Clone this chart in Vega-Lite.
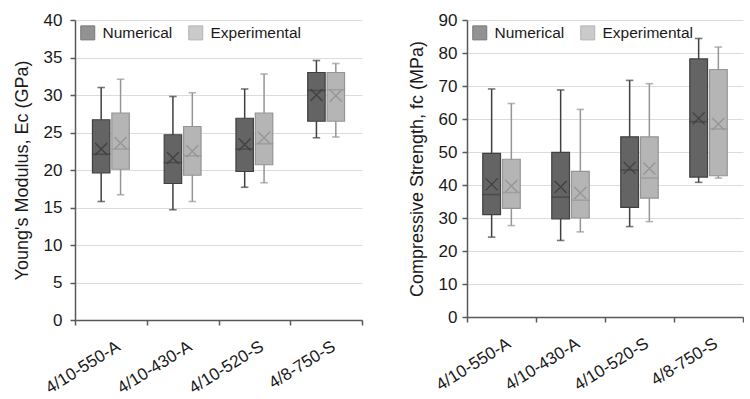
{
  "$schema": "https://vega.github.io/schema/vega-lite/v6.json",
  "padding": {"left": 13, "top": 11, "right": 0, "bottom": 0},
  "background": "white",
  "config": {
    "view": {"stroke": null},
    "font": "Liberation Sans",
    "axis": {
      "labelFont": "Liberation Sans",
      "titleFont": "Liberation Sans",
      "labelColor": "#1a1a1a",
      "titleColor": "#1a1a1a",
      "domainColor": "#595959",
      "tickColor": "#595959",
      "domainWidth": 1.5,
      "tickWidth": 1.5,
      "labelFontSize": 17,
      "titleFontSize": 18,
      "titleFontWeight": "normal"
    },
    "axisY": {"labelOverlap": false, "grid": true, "gridColor": "#dcdcdc", "gridWidth": 1, "tickSize": 5, "titlePadding": 12},
    "legend": {
      "labelFont": "Liberation Sans",
      "labelFontSize": 15.5,
      "labelColor": "#1a1a1a"
    }
  },
  "datasets": {
    "young": [
      {"g": "4/10-550-A", "type": "Numerical", "lo": 15.8, "q1": 19.6, "med": 22.1, "mean": 22.8, "q3": 26.7, "hi": 31.0},
      {"g": "4/10-550-A", "type": "Experimental", "lo": 16.7, "q1": 20.1, "med": 22.8, "mean": 23.6, "q3": 27.6, "hi": 32.1},
      {"g": "4/10-430-A", "type": "Numerical", "lo": 14.7, "q1": 18.2, "med": 21.0, "mean": 21.6, "q3": 24.7, "hi": 29.8},
      {"g": "4/10-430-A", "type": "Experimental", "lo": 15.8, "q1": 19.3, "med": 21.9, "mean": 22.5, "q3": 25.8, "hi": 30.3},
      {"g": "4/10-520-S", "type": "Numerical", "lo": 17.7, "q1": 19.8, "med": 22.8, "mean": 23.4, "q3": 26.9, "hi": 30.8},
      {"g": "4/10-520-S", "type": "Experimental", "lo": 18.3, "q1": 20.7, "med": 23.5, "mean": 24.3, "q3": 27.6, "hi": 32.8},
      {"g": "4/8-750-S", "type": "Numerical", "lo": 24.3, "q1": 26.5, "med": 30.6, "mean": 30.0, "q3": 33.0, "hi": 34.6},
      {"g": "4/8-750-S", "type": "Experimental", "lo": 24.4, "q1": 26.5, "med": 30.7, "mean": 29.9, "q3": 33.0, "hi": 34.2}
    ],
    "comp": [
      {"g": "4/10-550-A", "type": "Numerical", "lo": 24.2, "q1": 31.0, "med": 37.1, "mean": 40.2, "q3": 49.6, "hi": 69.1},
      {"g": "4/10-550-A", "type": "Experimental", "lo": 27.7, "q1": 32.9, "med": 37.7, "mean": 39.7, "q3": 47.8, "hi": 64.7},
      {"g": "4/10-430-A", "type": "Numerical", "lo": 23.2, "q1": 29.7, "med": 36.3, "mean": 39.4, "q3": 49.9, "hi": 68.8},
      {"g": "4/10-430-A", "type": "Experimental", "lo": 25.8, "q1": 30.0, "med": 35.4, "mean": 37.6, "q3": 44.1, "hi": 62.9},
      {"g": "4/10-520-S", "type": "Numerical", "lo": 27.4, "q1": 33.2, "med": 44.5, "mean": 45.2, "q3": 54.6, "hi": 71.7},
      {"g": "4/10-520-S", "type": "Experimental", "lo": 28.9, "q1": 36.0, "med": 42.1, "mean": 45.0, "q3": 54.6, "hi": 70.7},
      {"g": "4/8-750-S", "type": "Numerical", "lo": 40.8, "q1": 42.4, "med": 59.2, "mean": 60.2, "q3": 78.2, "hi": 84.4},
      {"g": "4/8-750-S", "type": "Experimental", "lo": 42.1, "q1": 42.8, "med": 57.0, "mean": 58.5, "q3": 75.0, "hi": 81.8}
    ]
  },
  "spacing": 45,
  "hconcat": [
    {
      "width": 287,
      "height": 300,
      "data": {"name": "young"},
      "encoding": {
        "x": {
          "field": "g", "type": "nominal", "sort": null,
          "scale": {"paddingInner": 0, "paddingOuter": 0},
          "axis": {"title": null, "tickBand": "extent", "labelAngle": -32, "labelAlign": "right", "labelBaseline": "top", "labelPadding": 13, "labelOffset": 3, "tickSize": 5, "grid": false, "labelOverlap": false, "labelBound": false, "labelFlush": false}
        },
        "xOffset": {"field": "type", "type": "nominal", "sort": ["Numerical", "Experimental"], "scale": {"domain": ["Numerical", "Experimental"], "paddingInner": 0.1, "paddingOuter": 0.9}}
      },
      "layer": [
        {
          "mark": {"type": "rule", "strokeWidth": 1.5},
          "encoding": {
            "y": {"field": "lo", "type": "quantitative", "scale": {"domain": [0, 40], "nice": false}, "axis": {"title": "Young's Modulus, Ec (GPa)", "values": [0, 5, 10, 15, 20, 25, 30, 35, 40], "labelPadding": 8}},
            "y2": {"field": "hi"},
            "stroke": {"field": "type", "type": "nominal", "scale": {"domain": ["Numerical", "Experimental"], "range": ["#404040", "#959595"]}}
          }
        },
        {
          "mark": {"type": "tick", "size": 6, "thickness": 0.1, "filled": false, "strokeWidth": 1.5},
          "encoding": {
            "y": {"field": "lo", "type": "quantitative", "axis": {"title": "Young's Modulus, Ec (GPa)", "values": [0, 5, 10, 15, 20, 25, 30, 35, 40], "labelPadding": 8}},
            "stroke": {"field": "type", "type": "nominal"}
          }
        },
        {
          "mark": {"type": "tick", "size": 6, "thickness": 0.1, "filled": false, "strokeWidth": 1.5},
          "encoding": {
            "y": {"field": "hi", "type": "quantitative", "axis": {"title": "Young's Modulus, Ec (GPa)", "values": [0, 5, 10, 15, 20, 25, 30, 35, 40], "labelPadding": 8}},
            "stroke": {"field": "type", "type": "nominal"}
          }
        },
        {
          "mark": {"type": "bar", "strokeWidth": 1.2, "fillOpacity": 1},
          "encoding": {
            "y": {"field": "q1", "type": "quantitative", "axis": {"title": "Young's Modulus, Ec (GPa)", "values": [0, 5, 10, 15, 20, 25, 30, 35, 40], "labelPadding": 8}},
            "y2": {"field": "q3"},
            "fill": {"field": "type", "type": "nominal", "scale": {"domain": ["Numerical", "Experimental"], "range": ["#646464", "#b5b5b5"]}, "legend": {"title": null, "orient": "top-left", "direction": "horizontal", "symbolType": "square", "symbolSize": 196, "symbolStrokeWidth": 1, "labelOffset": 7, "columnPadding": 13, "offset": 5}},
            "stroke": {"field": "type", "type": "nominal", "legend": {"title": null, "orient": "top-left", "direction": "horizontal", "symbolType": "square", "symbolSize": 196, "symbolStrokeWidth": 1, "labelOffset": 7, "columnPadding": 13, "offset": 5}}
          }
        },
        {
          "mark": {"type": "tick", "size": 17, "thickness": 0.1, "filled": false, "strokeWidth": 1.5},
          "encoding": {
            "y": {"field": "med", "type": "quantitative", "axis": {"title": "Young's Modulus, Ec (GPa)", "values": [0, 5, 10, 15, 20, 25, 30, 35, 40], "labelPadding": 8}},
            "stroke": {"field": "type", "type": "nominal"}
          }
        },
        {
          "mark": {"type": "point", "shape": "M-1,-1L1,1M1,-1L-1,1", "size": 144, "filled": false, "strokeWidth": 1.3, "opacity": 1},
          "encoding": {
            "y": {"field": "mean", "type": "quantitative", "axis": {"title": "Young's Modulus, Ec (GPa)", "values": [0, 5, 10, 15, 20, 25, 30, 35, 40], "labelPadding": 8}},
            "stroke": {"field": "type", "type": "nominal"}
          }
        }
      ]
    },
    {
      "width": 276,
      "height": 297,
      "data": {"name": "comp"},
      "encoding": {
        "x": {
          "field": "g", "type": "nominal", "sort": null,
          "scale": {"paddingInner": 0, "paddingOuter": 0},
          "axis": {"title": null, "tickBand": "extent", "labelAngle": -32, "labelAlign": "right", "labelBaseline": "top", "labelPadding": 13, "labelOffset": 3, "tickSize": 5, "grid": false, "labelOverlap": false, "labelBound": false, "labelFlush": false}
        },
        "xOffset": {"field": "type", "type": "nominal", "sort": ["Numerical", "Experimental"], "scale": {"domain": ["Numerical", "Experimental"], "paddingInner": 0.1, "paddingOuter": 0.8}}
      },
      "layer": [
        {
          "mark": {"type": "rule", "strokeWidth": 1.5},
          "encoding": {
            "y": {"field": "lo", "type": "quantitative", "scale": {"domain": [0, 90], "nice": false}, "axis": {"title": "Compressive Strength, fc (MPa)", "values": [0, 10, 20, 30, 40, 50, 60, 70, 80, 90], "labelPadding": 5}},
            "y2": {"field": "hi"},
            "stroke": {"field": "type", "type": "nominal", "scale": {"domain": ["Numerical", "Experimental"], "range": ["#404040", "#959595"]}}
          }
        },
        {
          "mark": {"type": "tick", "size": 6, "thickness": 0.1, "filled": false, "strokeWidth": 1.5},
          "encoding": {
            "y": {"field": "lo", "type": "quantitative", "axis": {"title": "Compressive Strength, fc (MPa)", "values": [0, 10, 20, 30, 40, 50, 60, 70, 80, 90], "labelPadding": 5}},
            "stroke": {"field": "type", "type": "nominal"}
          }
        },
        {
          "mark": {"type": "tick", "size": 6, "thickness": 0.1, "filled": false, "strokeWidth": 1.5},
          "encoding": {
            "y": {"field": "hi", "type": "quantitative", "axis": {"title": "Compressive Strength, fc (MPa)", "values": [0, 10, 20, 30, 40, 50, 60, 70, 80, 90], "labelPadding": 5}},
            "stroke": {"field": "type", "type": "nominal"}
          }
        },
        {
          "mark": {"type": "bar", "strokeWidth": 1.2, "fillOpacity": 1},
          "encoding": {
            "y": {"field": "q1", "type": "quantitative", "axis": {"title": "Compressive Strength, fc (MPa)", "values": [0, 10, 20, 30, 40, 50, 60, 70, 80, 90], "labelPadding": 5}},
            "y2": {"field": "q3"},
            "fill": {"field": "type", "type": "nominal", "scale": {"domain": ["Numerical", "Experimental"], "range": ["#646464", "#b5b5b5"]}, "legend": {"title": null, "orient": "top-left", "direction": "horizontal", "symbolType": "square", "symbolSize": 196, "symbolStrokeWidth": 1, "labelOffset": 7, "columnPadding": 13, "offset": 5}},
            "stroke": {"field": "type", "type": "nominal", "legend": {"title": null, "orient": "top-left", "direction": "horizontal", "symbolType": "square", "symbolSize": 196, "symbolStrokeWidth": 1, "labelOffset": 7, "columnPadding": 13, "offset": 5}}
          }
        },
        {
          "mark": {"type": "tick", "size": 17, "thickness": 0.1, "filled": false, "strokeWidth": 1.5},
          "encoding": {
            "y": {"field": "med", "type": "quantitative", "axis": {"title": "Compressive Strength, fc (MPa)", "values": [0, 10, 20, 30, 40, 50, 60, 70, 80, 90], "labelPadding": 5}},
            "stroke": {"field": "type", "type": "nominal"}
          }
        },
        {
          "mark": {"type": "point", "shape": "M-1,-1L1,1M1,-1L-1,1", "size": 144, "filled": false, "strokeWidth": 1.3, "opacity": 1},
          "encoding": {
            "y": {"field": "mean", "type": "quantitative", "axis": {"title": "Compressive Strength, fc (MPa)", "values": [0, 10, 20, 30, 40, 50, 60, 70, 80, 90], "labelPadding": 5}},
            "stroke": {"field": "type", "type": "nominal"}
          }
        }
      ]
    }
  ],
  "resolve": {"scale": {"y": "independent", "x": "independent", "fill": "independent", "stroke": "independent", "xOffset": "independent"}, "legend": {"fill": "independent", "stroke": "independent"}}
}
